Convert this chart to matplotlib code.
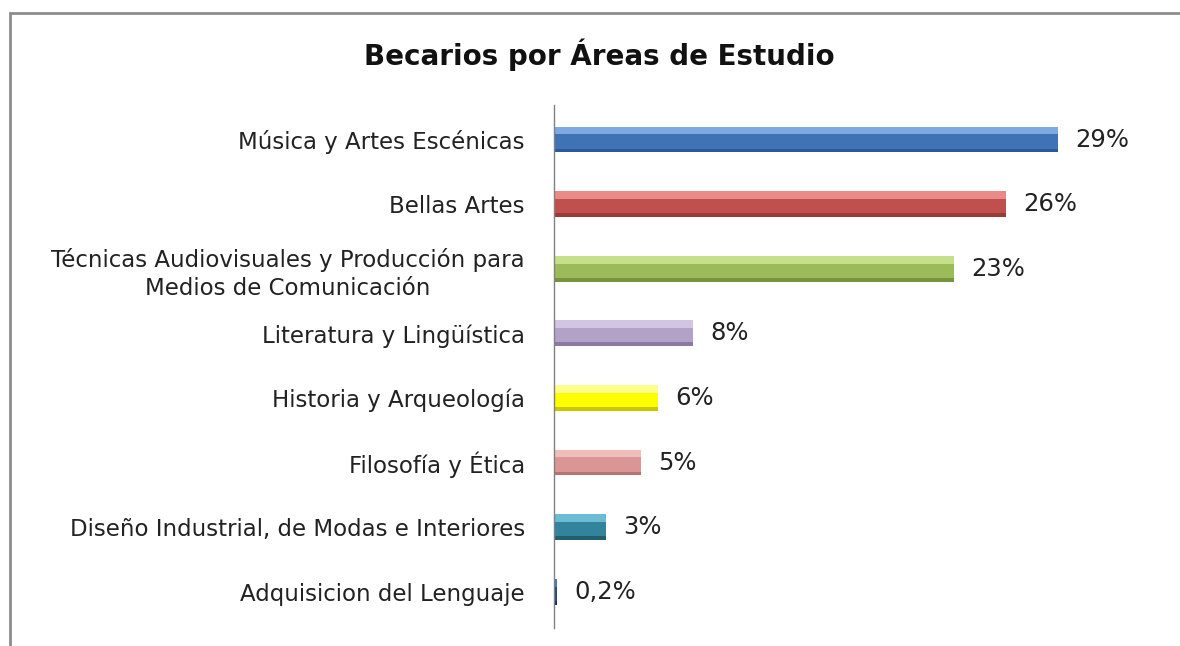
import matplotlib.pyplot as plt
from matplotlib.patches import Rectangle

categories = ['Música y Artes Escénicas', 'Bellas Artes',
              'Técnicas Audiovisuales y Producción para\nMedios de Comunicación',
              'Literatura y Lingüística', 'Historia y Arqueología',
              'Filosofía y Ética', 'Diseño Industrial, de Modas e Interiores',
              'Adquisicion del Lenguaje']
values = [29, 26, 23, 8, 6, 5, 3, 0.2]
value_labels = ['29%', '26%', '23%', '8%', '6%', '5%', '3%', '0,2%']
colors = ['#3F73B5', '#C0504D', '#9BBB59', '#B3A2C7', '#FFFF00', '#D99694', '#31849B', '#1F497D']
highlights = ['#7FAAE0', '#E88A87', '#C6E08A', '#D2C5E2', '#FFFF8C', '#F0BDBB', '#6BBBD2', '#4A75AE']
shadows = ['#2D5A92', '#9A3B38', '#77933C', '#8C7AA3', '#C8C800', '#B57371', '#215F70', '#142F52']

plt.rcParams['font.family'] = ['DejaVu Sans']

fig = plt.figure(figsize=(11.8, 6.46), dpi=100)
ax = fig.add_axes([0.4695, 0.028, 0.52, 0.81])

ypos = list(range(len(categories)))
h = 0.4
ax.barh(ypos, values, height=h, color=colors, edgecolor='none')
# fake bevel: light strip on top, dark strip at bottom
ax.barh([y - h / 2 + 0.06 for y in ypos], values, height=0.12, color=highlights, edgecolor='none')
ax.barh([y + h / 2 - 0.03 for y in ypos], values, height=0.06, color=shadows, edgecolor='none')

for y, v, lab in zip(ypos, values, value_labels):
    ax.text(v + 1.0, y, lab, va='center', ha='left', fontsize=17.5, color='#222222')

ax.set_yticks(ypos)
ax.set_yticklabels(categories, fontsize=16.5, color='#222222', linespacing=1.3,
                   multialignment='center')
ax.tick_params(axis='y', length=0, pad=21)
ax.set_xticks([])
ax.set_xlim(0, 35.3)
ax.set_ylim(7.56, -0.54)
for s in ['top', 'right', 'bottom']:
    ax.spines[s].set_visible(False)
ax.spines['left'].set_color('#808080')
ax.spines['left'].set_linewidth(1.0)

fig.text(0.508, 0.915, 'Becarios por Áreas de Estudio', ha='center', va='center',
         fontsize=20, fontweight='bold', color='#111111')

fig.patches.append(Rectangle((0.0085, -0.05), 1.1, 1.03, transform=fig.transFigure,
                             fill=False, edgecolor='#8C8C8C', linewidth=2))

fig.savefig('out.png', dpi=100)
